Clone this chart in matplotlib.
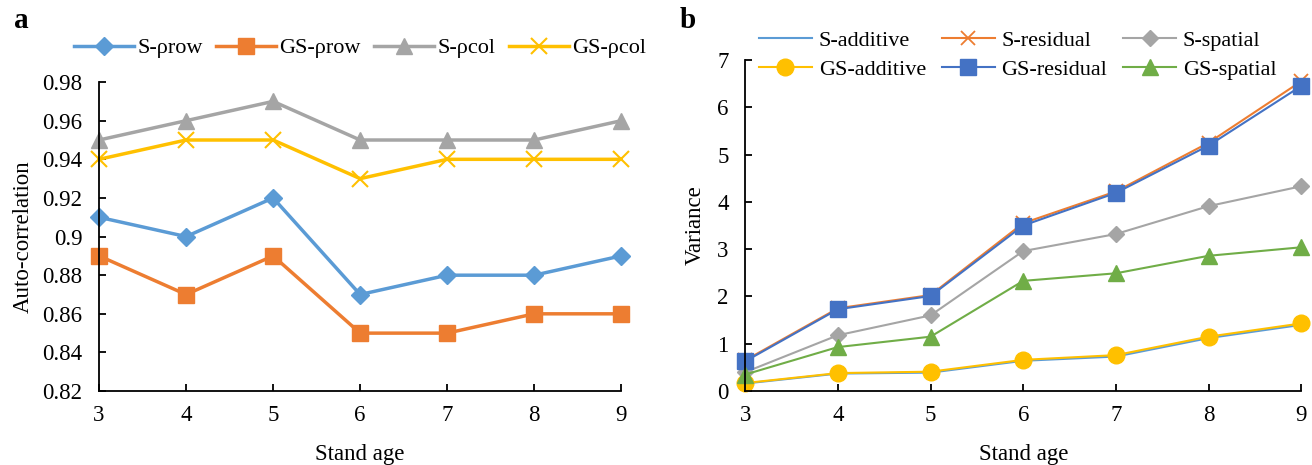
import numpy as np
import matplotlib.pyplot as plt

plt.rcParams['font.family'] = ['Liberation Serif', 'DejaVu Serif']
plt.rcParams['font.size'] = 16.5

ages = [3, 4, 5, 6, 7, 8, 9]

# panel a: auto-correlation
s_prow = [0.91, 0.90, 0.92, 0.87, 0.88, 0.88, 0.89]
gs_prow = [0.89, 0.87, 0.89, 0.85, 0.85, 0.86, 0.86]
s_pcol = [0.95, 0.96, 0.97, 0.95, 0.95, 0.95, 0.96]
gs_pcol = [0.94, 0.95, 0.95, 0.93, 0.94, 0.94, 0.94]

# panel b: variance components
s_add = [0.16, 0.37, 0.39, 0.64, 0.73, 1.12, 1.40]
s_res = [0.65, 1.75, 2.03, 3.55, 4.22, 5.25, 6.55]
s_spa = [0.40, 1.18, 1.60, 2.96, 3.32, 3.91, 4.33]
gs_add = [0.17, 0.38, 0.41, 0.66, 0.76, 1.15, 1.43]
gs_res = [0.63, 1.73, 2.01, 3.50, 4.19, 5.19, 6.45]
gs_spa = [0.35, 0.93, 1.15, 2.33, 2.49, 2.86, 3.04]

blue = '#5B9BD5'
orange = '#ED7D31'
gray = '#A5A5A5'
yellow = '#FFC000'
dblue = '#4472C4'
green = '#70AD47'

fig = plt.figure(figsize=(13.12, 4.65), dpi=100)
ax1 = fig.add_axes([0.0755, 0.159, 0.398, 0.6645])
ax2 = fig.add_axes([0.568, 0.159, 0.4238, 0.712])


def style(ax):
    ax.spines['top'].set_visible(False)
    ax.spines['right'].set_visible(False)
    for s in ('left', 'bottom'):
        ax.spines[s].set_linewidth(1.3)
    ax.tick_params(direction='in', length=5, width=1.3, labelsize=16.5)
    ax.tick_params(axis='x', pad=10)
    ax.tick_params(axis='y', pad=12)
    ax.set_xlim(3, 9)
    ax.set_xticks(ages)
    ax.set_xlabel('Stand age', fontsize=16.5, labelpad=13)


lw = 2.5
ax1.plot(ages, s_prow, color=blue, lw=lw, marker='D', ms=9, clip_on=False, label='S-ρrow')
ax1.plot(ages, gs_prow, color=orange, lw=lw, marker='s', ms=12, clip_on=False, label='GS-ρrow')
ax1.plot(ages, s_pcol, color=gray, lw=lw, marker='^', ms=12, clip_on=False, label='S-ρcol')
ax1.plot(ages, gs_pcol, color=yellow, lw=lw, marker='x', ms=12, mew=1.5, clip_on=False, label='GS-ρcol')
style(ax1)
ax1.set_ylim(0.82, 0.98)
ax1.set_yticks(np.arange(0.82, 0.981, 0.02))
ax1.set_yticklabels(['0.82', '0.84', '0.86', '0.88', '0.9', '0.92', '0.94', '0.96', '0.98'])
ax1.set_ylabel('Auto-correlation', fontsize=16.5, labelpad=6)
ax1.legend(loc='center', bbox_to_anchor=(0.5, 1.11), ncol=4, frameon=False,
           fontsize=16, handlelength=2.7, columnspacing=0.6, handletextpad=0.15,
           borderaxespad=0)

lw2 = 1.5
ax2.plot(ages, s_add, color=blue, lw=lw2, clip_on=False, label='S-additive')
ax2.plot(ages, s_res, color=orange, lw=lw2, marker='x', ms=10, mew=1.3, clip_on=False, label='S-residual')
ax2.plot(ages, s_spa, color=gray, lw=lw2, marker='D', ms=8, clip_on=False, label='S-spatial')
ax2.plot(ages, gs_add, color=yellow, lw=lw2, marker='o', ms=12, clip_on=False, label='GS-additive')
ax2.plot(ages, gs_res, color=dblue, lw=lw2, marker='s', ms=12, clip_on=False, label='GS-residual')
ax2.plot(ages, gs_spa, color=green, lw=lw2, marker='^', ms=12, clip_on=False, label='GS-spatial')
style(ax2)
ax2.set_ylim(0, 7)
ax2.set_yticks(range(0, 8))
ax2.set_ylabel('Variance', fontsize=16.5, labelpad=8)
h, l = ax2.get_legend_handles_labels()
order = [0, 3, 1, 4, 2, 5]
ax2.legend([h[i] for i in order], [l[i] for i in order], loc='center',
           bbox_to_anchor=(0.49, 1.015), ncol=3, frameon=False, fontsize=16,
           handlelength=2.4, columnspacing=0.7, handletextpad=0.3,
           labelspacing=0.4, borderaxespad=0)

fig.text(14 / 1312, 1 - 20 / 465, 'a', fontsize=21, fontweight='bold', va='center')
fig.text(680 / 1312, 1 - 20 / 465, 'b', fontsize=21, fontweight='bold', va='center')

fig.savefig('out.png', dpi=100)
